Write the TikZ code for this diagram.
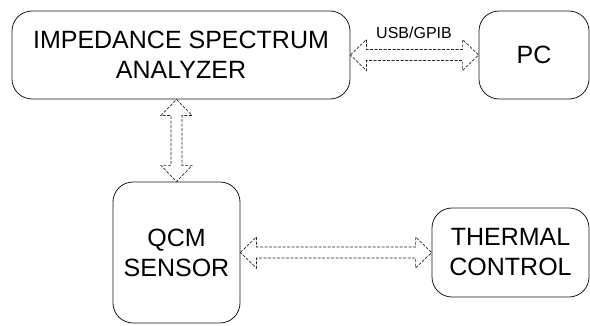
\documentclass[tikz,border=0pt]{standalone}
\usepackage{fontspec}
\setmainfont{Liberation Sans}
\usetikzlibrary{calc}
\newcommand\hdbl[2]{\draw[dbl] (#1) -- ++(16,15.5) -- ++(0,-10) -- ($(#2)+(-16,5.5)$) -- ++(0,10) -- (#2) -- ++(-16,-15.5) -- ++(0,10) -- ($(#1)+(16,-5.5)$) -- ++(0,-10) -- cycle;}
\newcommand\vdbl[2]{\draw[dbl] (#1) -- ++(15.5,-16) -- ++(-10,0) -- ($(#2)+(5.5,16)$) -- ++(10,0) -- (#2) -- ++(-15.5,16) -- ++(10,0) -- ($(#1)+(-5.5,-16)$) -- ++(-10,0) -- cycle;}
\begin{document}
\begin{tikzpicture}[x=1pt,y=1pt,
  box/.style={draw=black!90, line width=0.8pt, rounded corners=20pt, align=center,
    font=\fontsize{25}{30}\selectfont, inner sep=0pt},
  dbl/.style={draw=black!85, line width=0.7pt, dash pattern=on 3pt off 1.5pt, line join=miter},
  lbl/.style={font=\fontsize{16}{18}\selectfont, inner sep=0pt}]
\useasboundingbox (0,0) rectangle (590,325);
\node[box, minimum width=338pt, minimum height=88pt] (isa) at (181,270) {IMPEDANCE SPECTRUM\\ANALYZER};
\node[box, minimum width=110pt, minimum height=88pt] (pc) at (534,270) {PC};
\node[box, minimum width=127pt, minimum height=141pt] (qcm) at (176.5,72.5) {QCM\\SENSOR};
\node[box, minimum width=157pt, minimum height=89pt] (th) at (510.5,72.5) {THERMAL\\CONTROL};
\coordinate (vtop) at (qcm.north |- isa.south);
\hdbl{isa.east}{pc.west}
\vdbl{vtop}{qcm.north}
\hdbl{qcm.east}{th.west}
\node[lbl] (usb) at (414,292.5) {USB/GPIB};
\end{tikzpicture}
\end{document}
